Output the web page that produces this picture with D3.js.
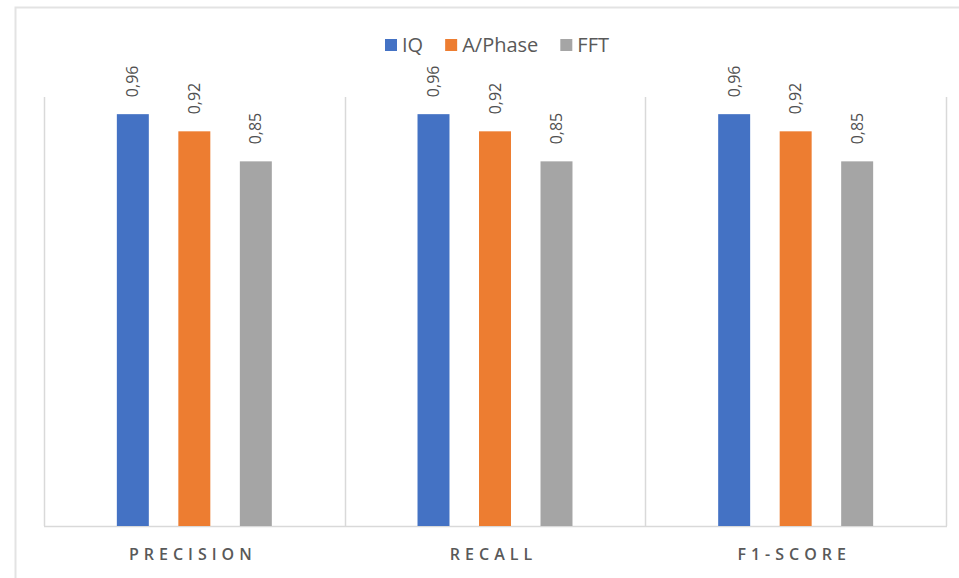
<!DOCTYPE html>
<html>
<head>
<meta charset="utf-8">
<script src="https://cdn.jsdelivr.net/npm/d3@7"></script>
<style>
  html, body { margin: 0; padding: 0; background: #fff; }
  svg { display: block; font-family: "Open Sans", "Noto Sans", sans-serif; }
</style>
</head>
<body>
<svg id="chart" width="959" height="578"></svg>
<script>
// Metrics per classifier input representation
const categories = ["PRECISION", "RECALL", "F1-SCORE"];
const seriesNames = ["IQ", "A/Phase", "FFT"];
const iqValues = [0.96, 0.96, 0.96];
const phaseValues = [0.92, 0.92, 0.92];
const fftValues = [0.85, 0.85, 0.85];
const seriesColors = ["#4472C4", "#ED7D31", "#A5A5A5"];
const yDomain = [0, 1];

const seriesValues = [iqValues, phaseValues, fftValues];
const rows = categories.map((c, i) => ({
  category: c,
  values: seriesNames.map((s, j) => ({ series: s, value: seriesValues[j][i] }))
}));

const svg = d3.select("#chart");
const plot = { left: 44, right: 946, top: 97, bottom: 526 };
const gridColor = "#d9d9d9";
const textColor = "#595959";

// Chart frame
svg.append("rect")
  .attr("x", 15.5).attr("y", 7.5)
  .attr("width", 980).attr("height", 600)
  .attr("fill", "none")
  .attr("stroke", "#e3e3e3")
  .attr("stroke-width", 2);

const x0 = d3.scaleBand()
  .domain(categories)
  .range([plot.left, plot.right])
  .padding(0);

const groupWidth = 184.5;
const x1 = d3.scaleBand()
  .domain(seriesNames)
  .range([(x0.bandwidth() - groupWidth) / 2, (x0.bandwidth() + groupWidth) / 2])
  .paddingInner(0.48)
  .paddingOuter(0.24);

const y = d3.scaleLinear().domain(yDomain).range([plot.bottom, plot.top]);
const color = d3.scaleOrdinal().domain(seriesNames).range(seriesColors);

// Category separators
const bounds = categories.map(c => x0(c)).concat([plot.right]);
svg.append("g").selectAll("line")
  .data(bounds)
  .join("line")
  .attr("x1", d => Math.round(d) + 0.5).attr("x2", d => Math.round(d) + 0.5)
  .attr("y1", y(yDomain[1])).attr("y2", plot.bottom)
  .attr("stroke", gridColor)
  .attr("stroke-width", 1.5);

// Bottom axis line
svg.append("line")
  .attr("x1", plot.left).attr("x2", plot.right + 1)
  .attr("y1", plot.bottom + 0.5).attr("y2", plot.bottom + 0.5)
  .attr("stroke", gridColor)
  .attr("stroke-width", 1.5);

// Bars
const groups = svg.append("g").selectAll("g")
  .data(rows)
  .join("g")
  .attr("transform", d => `translate(${x0(d.category)},0)`);

groups.selectAll("rect")
  .data(d => d.values)
  .join("rect")
  .attr("x", d => x1(d.series))
  .attr("width", x1.bandwidth())
  .attr("y", d => y(d.value))
  .attr("height", d => y(0) - y(d.value))
  .attr("fill", d => color(d.series));

// Value labels, rotated
const fmt = v => d3.format(".2f")(v).replace(".", ",");
groups.selectAll("text")
  .data(d => d.values)
  .join("text")
  .attr("transform", d => `translate(${x1(d.series) + x1.bandwidth() / 2 + 5.5},${y(d.value) - 17}) rotate(-90)`)
  .attr("text-anchor", "start")
  .attr("font-size", 16)
  .attr("fill", "#505050")
  .text(d => fmt(d.value));

// Category labels
svg.append("g").selectAll("text")
  .data(categories)
  .join("text")
  .attr("x", d => x0(d) + x0.bandwidth() / 2 - 1.5)
  .attr("y", 560)
  .attr("text-anchor", "middle")
  .attr("font-size", 16)
  .attr("font-weight", 600)
  .attr("letter-spacing", 5)
  .attr("fill", textColor)
  .text(d => d);

// Legend
const legend = svg.append("g").attr("transform", "translate(385,45)");
let lx = 0;
seriesNames.forEach(s => {
  const item = legend.append("g").attr("transform", `translate(${lx},0)`);
  item.append("rect")
    .attr("x", 0).attr("y", -6)
    .attr("width", 12).attr("height", 12)
    .attr("fill", color(s));
  const t = item.append("text")
    .attr("x", 17).attr("y", 7)
    .attr("font-size", 20)
    .attr("fill", textColor)
    .text(s);
  lx += 17 + t.node().getComputedTextLength() + 22;
});
</script>
</body>
</html>
